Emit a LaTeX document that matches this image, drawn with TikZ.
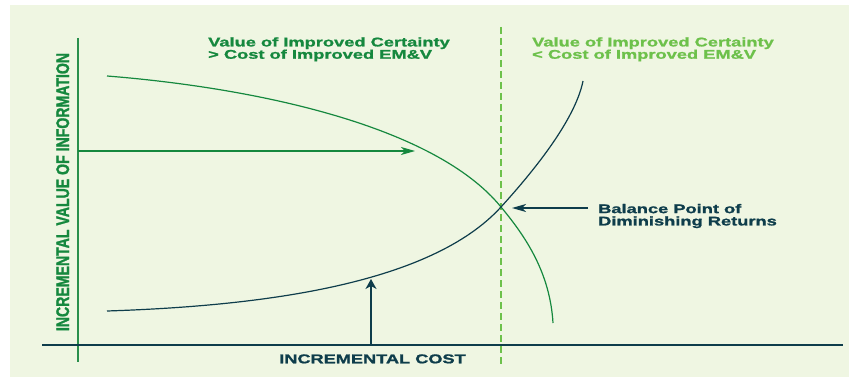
\documentclass[tikz,border=0pt]{standalone}
\usepackage{fontspec}
\setmainfont{Liberation Sans}
\newfontfamily\widefont{Liberation Sans Bold}[FakeStretch=1.45,FakeBold=1.3]
\newfontfamily\xfont{Liberation Sans Bold}[FakeStretch=1.42,FakeBold=1.3]
\newfontfamily\tallfont{Liberation Sans Bold}[FakeStretch=0.775,FakeBold=1.3]
\usetikzlibrary{arrows.meta}
\definecolor{bgcol}{HTML}{EFF6E2}
\definecolor{dkgreen}{HTML}{15883E}
\definecolor{ltgreen}{HTML}{6DC14B}
\definecolor{tealc}{HTML}{0E3D4B}
\definecolor{axgreen}{HTML}{2A8F4C}
\tikzset{
  lbl/.style={inner sep=0pt, font=\widefont\fontsize{12.6}{12.3}\selectfont, align=left},
  curve/.style={line width=1.2pt},
  headh/.style={-{Stealth[length=14pt,width=8pt,inset=4pt]}},
  headv/.style={-{Stealth[length=10pt,width=11pt,inset=3pt]}}
}
\begin{document}
\begin{tikzpicture}[x=1pt,y=-1pt]
\useasboundingbox (0,0) rectangle (854,377);
\fill[bgcol] (10,5) rectangle (849,377);
% axes
\coordinate (ytop) at (78,38);
\coordinate (ybot) at (78,362);
\coordinate (xl) at (42,345);
\coordinate (xr) at (843,345);
\coordinate (dtop) at (501,27);
\coordinate (dbot) at (501,366);
\draw[axgreen, line width=1.5pt] (ytop) -- (ybot);
\draw[tealc, line width=1.5pt] (xl) -- (xr);
\draw[ltgreen, line width=1.5pt, dash pattern=on 7pt off 4pt] (dtop) -- (dbot);
% curves
\coordinate (g0) at (107,76);
\coordinate (bal) at (501,207);
\coordinate (g1) at (553,323);
\coordinate (c0) at (107,311);
\coordinate (c1) at (583,81);
\draw[dkgreen, curve] (g0) .. controls (257,88) and (435,126) .. (bal)
  .. controls (526,237) and (550,273) .. (g1);
\draw[tealc, curve] (c0) .. controls (260,306) and (430,285) .. (bal)
  .. controls (531,174) and (575,121) .. (c1);
% arrows
\coordinate (ha0) at (78,151);
\coordinate (ha1) at (415,151);
\draw[dkgreen, curve, headh] (ha0) -- (ha1);
\coordinate (va0) at (371,345);
\coordinate (va1) at (371,279);
\draw[tealc, curve, headv] (va0) -- (va1);
\coordinate (ba0) at (588,208);
\coordinate (ba1) at (512,208);
\draw[tealc, line width=1.5pt, headh] (ba0) -- (ba1);
% texts
\node[lbl, dkgreen, anchor=north west] (tl) at (208,37.1) {Value of Improved Certainty\\> Cost of Improved EM\&V};
\node[lbl, ltgreen, anchor=north west] (tr) at (532,37.1) {Value of Improved Certainty\\< Cost of Improved EM\&V};
\node[lbl, tealc, anchor=north west] (bp) at (598,203.8) {Balance Point of\\Diminishing Returns};
\node[inner sep=0pt, tealc, anchor=base, font=\xfont\fontsize{12.8}{13}\selectfont] (xc) at (372.5,363.3) {INCREMENTAL COST};
\node[inner sep=0pt, dkgreen, anchor=base, rotate=90, font=\tallfont\fontsize{18.2}{18}\selectfont] (yv) at (69,192) {INCREMENTAL VALUE OF INFORMATION};
\end{tikzpicture}
\end{document}
